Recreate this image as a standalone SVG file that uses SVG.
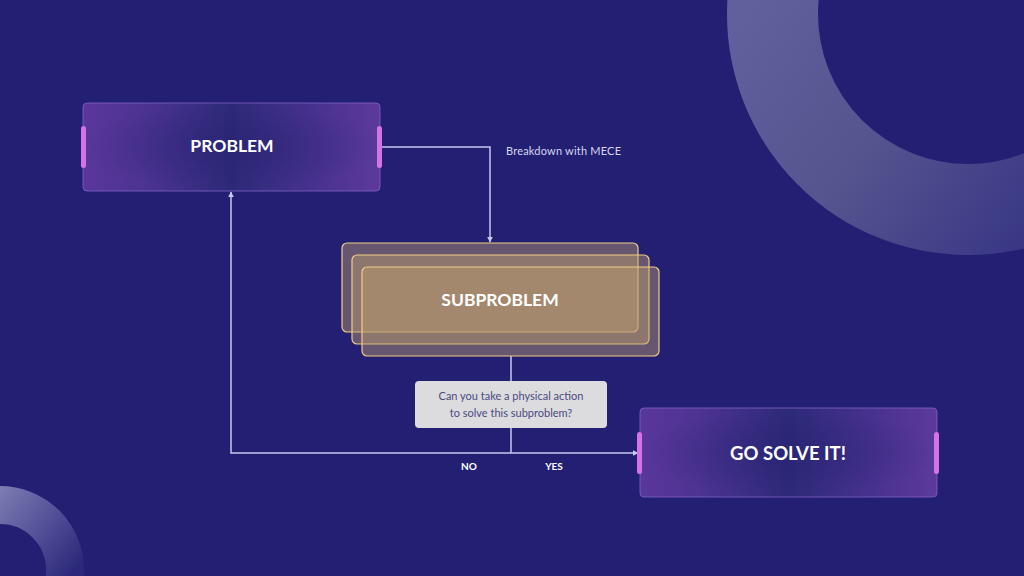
<svg xmlns="http://www.w3.org/2000/svg" width="1024" height="576" viewBox="0 0 1024 576">
  <defs>
    <style>
      .title { font-family: Lato, "Open Sans", "Liberation Sans", sans-serif; font-weight: 700; fill: #ffffff; text-anchor: middle; }
      .small { font-family: Lato, "Open Sans", "Liberation Sans", sans-serif; font-size: 11px; }
      .conn { fill: none; stroke: #c9c8ee; stroke-width: 1.5; }
      .handle { fill: #d474e4; }
      .pbox { fill: url(#boxGrad); stroke: #7f62c4; stroke-width: 1; stroke-opacity: 0.8; }
      .shade { fill: url(#boxShade); }
      .sbox { fill: #c0a06c; fill-opacity: 0.43; stroke: #f2cd82; stroke-width: 1.2; }
      .lbl { font-family: Lato, "Open Sans", "Liberation Sans", sans-serif; font-size: 10px; font-weight: 700; fill: #ffffff; text-anchor: middle; }
    </style>
    <linearGradient id="boxGrad" x1="0" y1="0" x2="1" y2="0">
      <stop offset="0" stop-color="#5a379b"/>
      <stop offset="0.2" stop-color="#4d3392"/>
      <stop offset="0.5" stop-color="#2d2a79"/>
      <stop offset="0.8" stop-color="#4a3290"/>
      <stop offset="1" stop-color="#5c3a9c"/>
    </linearGradient>
    <radialGradient id="boxShade" cx="0.5" cy="0.5" r="0.5">
      <stop offset="0" stop-color="#252170" stop-opacity="0.5"/>
      <stop offset="1" stop-color="#252170" stop-opacity="0"/>
    </radialGradient>
    <linearGradient id="ringTR" x1="727" y1="40" x2="1010" y2="250" gradientUnits="userSpaceOnUse">
      <stop offset="0" stop-color="#615f9c"/>
      <stop offset="0.5" stop-color="#55548f"/>
      <stop offset="1" stop-color="#3a3885"/>
    </linearGradient>
    <linearGradient id="ringBL" x1="0" y1="490" x2="84" y2="560" gradientUnits="userSpaceOnUse">
      <stop offset="0" stop-color="#7c7bb2"/>
      <stop offset="0.6" stop-color="#4c4a93"/>
      <stop offset="1" stop-color="#2b287a"/>
    </linearGradient>
    <marker id="arr" viewBox="0 0 10 10" refX="9" refY="5" markerWidth="6" markerHeight="6" orient="auto" markerUnits="userSpaceOnUse">
      <path d="M0,0 L10,5 L0,10 z" fill="#c9c8ee"/>
    </marker>
  </defs>

  <rect x="0" y="0" width="1024" height="576" fill="#231f73"/>

  <g id="decor">
    <circle cx="968" cy="14" r="195.5" fill="none" stroke="url(#ringTR)" stroke-width="91"/>
    <circle cx="0" cy="570" r="65" fill="none" stroke="url(#ringBL)" stroke-width="38"/>
  </g>

  <g id="connectors">
    <polyline class="conn" points="382,147 490,147 490,242" marker-end="url(#arr)"/>
    <line class="conn" x1="511" y1="356" x2="511" y2="453"/>
    <polyline class="conn" points="511,453 231,453 231,192" marker-end="url(#arr)"/>
    <line class="conn" x1="511" y1="453" x2="638" y2="453" marker-end="url(#arr)"/>
    <text class="small" x="506" y="155" fill="#d6d6f2" textLength="115">Breakdown with MECE</text>
    <text class="lbl" x="469" y="470">NO</text>
    <text class="lbl" x="554" y="470">YES</text>
  </g>

  <g id="problem">
    <rect class="pbox" x="83" y="103" width="297" height="88" rx="4"/>
    <rect class="shade" x="83" y="103" width="297" height="88" rx="4"/>
    <rect class="handle" x="81" y="126" width="5" height="42" rx="2.5"/>
    <rect class="handle" x="377" y="126" width="5" height="42" rx="2.5"/>
    <text class="title" x="232" y="152" font-size="17.5">PROBLEM</text>
  </g>

  <g id="subproblem">
    <rect class="sbox" x="342" y="243" width="296" height="89" rx="5"/>
    <rect class="sbox" x="352" y="255" width="297" height="89" rx="5"/>
    <rect class="sbox" x="362" y="267" width="297" height="89" rx="5"/>
    <text class="title" x="500" y="306" font-size="17.5">SUBPROBLEM</text>
  </g>

  <g id="question">
    <rect x="415" y="381" width="192" height="47" rx="4" fill="#dcdcdf"/>
    <text class="small" x="511" y="400" font-size="10.5" fill="#4b4a80" text-anchor="middle">Can you take a physical action</text>
    <text class="small" x="511" y="417" font-size="10.5" fill="#4b4a80" text-anchor="middle">to solve this subproblem?</text>
  </g>

  <g id="go-solve">
    <rect class="pbox" x="640" y="408" width="297" height="89" rx="4"/>
    <rect class="shade" x="640" y="408" width="297" height="89" rx="4"/>
    <rect class="handle" x="637" y="432" width="5" height="42" rx="2.5"/>
    <rect class="handle" x="934" y="432" width="5" height="42" rx="2.5"/>
    <text class="title" x="788" y="460" font-size="18.5">GO SOLVE IT!</text>
  </g>
</svg>
